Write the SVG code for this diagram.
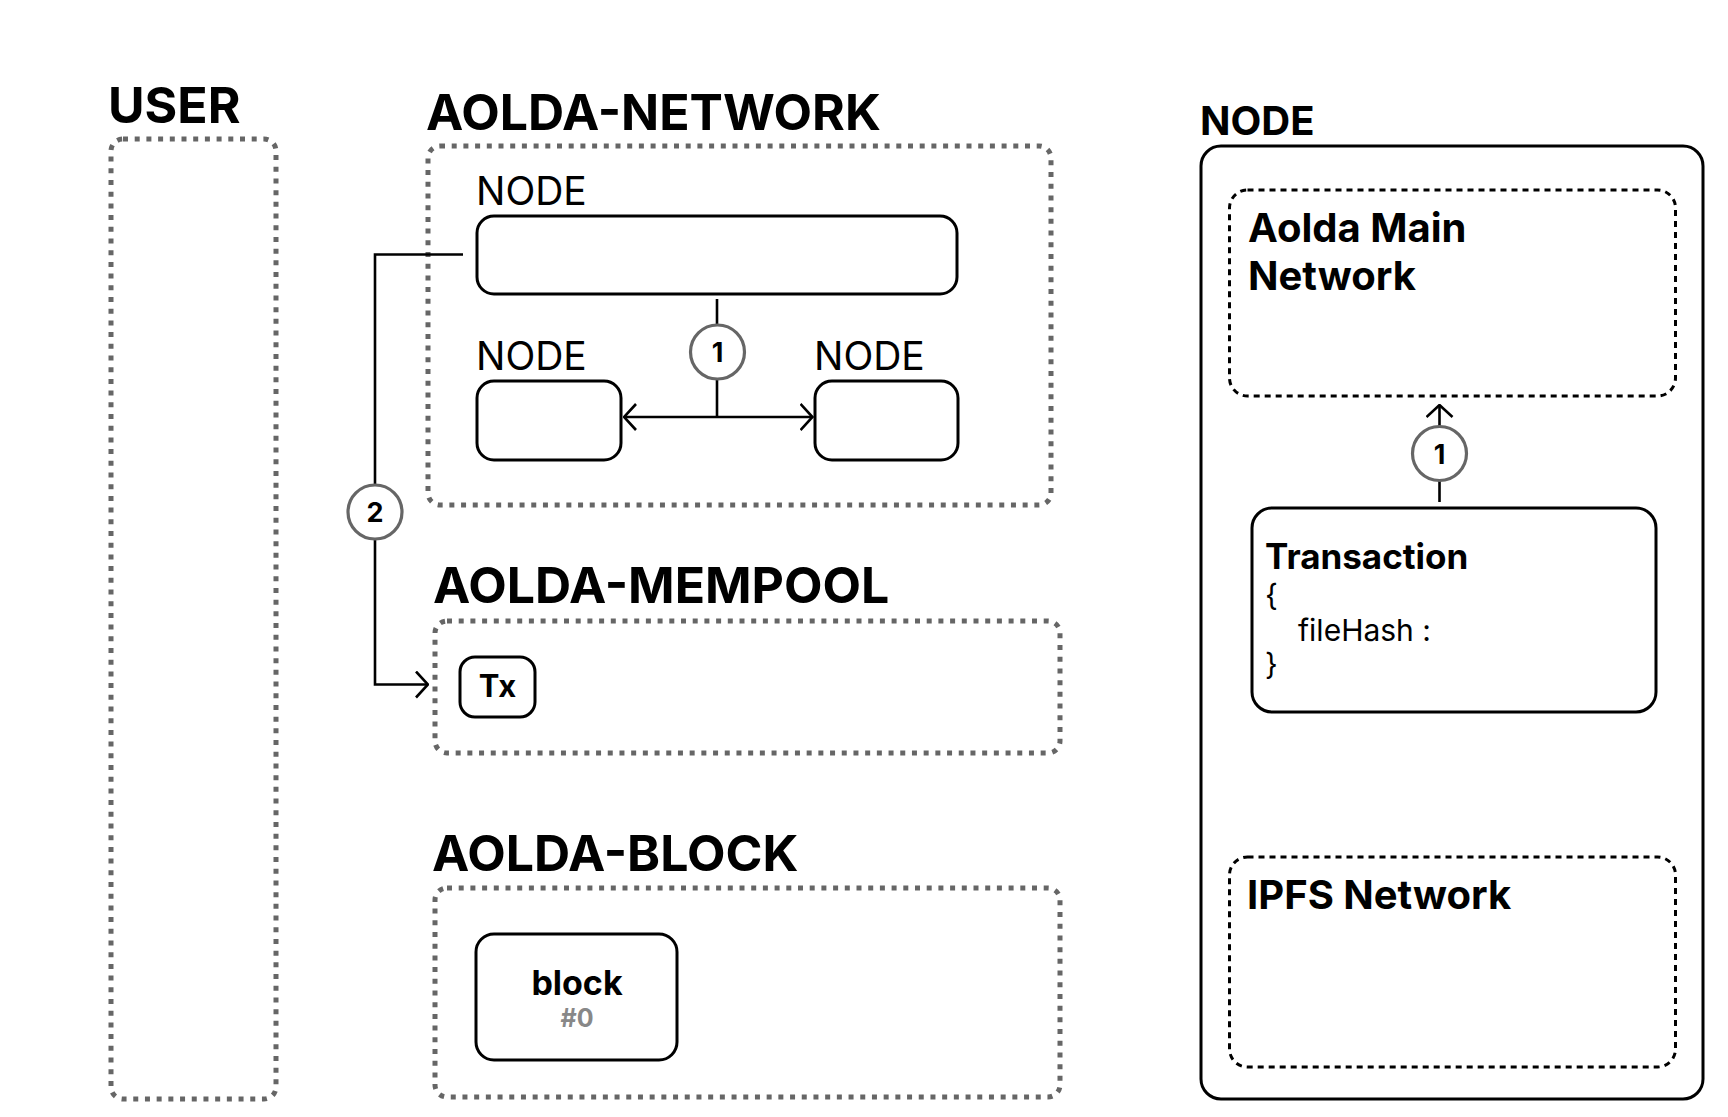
<svg xmlns="http://www.w3.org/2000/svg" width="1728" height="1117" viewBox="0 0 1728 1117">
<defs>
<style>
.title{font-family:Inter,"Noto Sans","Liberation Sans",sans-serif;font-weight:700;font-size:50px;fill:#000}
.sub{font-family:Inter,"Noto Sans","Liberation Sans",sans-serif;font-weight:700;font-size:40px;fill:#000}
.lbl{font-family:Inter,"Noto Sans","Liberation Sans",sans-serif;font-weight:400;font-size:39px;fill:#000}
.num{font-family:Inter,"Noto Sans","Liberation Sans",sans-serif;font-weight:700;font-size:25px;fill:#000;text-anchor:middle}
.badge-t{font-family:Inter,"Noto Sans","Liberation Sans",sans-serif;font-weight:700;font-size:27px;fill:#000;text-anchor:middle}
.body{font-family:Inter,"Noto Sans","Liberation Sans",sans-serif;font-weight:400;font-size:30px;fill:#000}
.grp{fill:none;stroke:#666;stroke-width:5;stroke-dasharray:5 6.7}
.dash{fill:none;stroke:#000;stroke-width:3;stroke-dasharray:6 5}
.box{fill:#fff;stroke:#000;stroke-width:3}
.badge{fill:#fff;stroke:#666;stroke-width:3.2}
.wire{fill:none;stroke:#000;stroke-width:2.6}
</style>
<marker id="arr" viewBox="0 0 14 28" refX="13" refY="14" markerWidth="14" markerHeight="28" markerUnits="userSpaceOnUse" orient="auto-start-reverse">
<path d="M1,1 L13,14 L1,27" fill="none" stroke="#000" stroke-width="2.6"/>
</marker>
</defs>
<rect width="1728" height="1117" fill="#fff"/>

<g id="user">
<text class="title" x="108" y="123">USER</text>
<rect class="grp" x="111" y="139" width="165" height="960" rx="12"/>
</g>

<g id="aolda-network">
<text class="title" x="426" y="130">AOLDA-NETWORK</text>
<rect class="grp" x="428" y="146" width="623" height="359" rx="12"/>
</g>

<g id="node-top">
<text class="lbl" x="476" y="205">NODE</text>
<rect class="box" x="477" y="216" width="480" height="78" rx="17"/>
</g>
<g id="node-left">
<text class="lbl" x="476" y="370">NODE</text>
<rect class="box" x="477" y="381" width="144" height="79" rx="17"/>
</g>
<g id="node-right">
<text class="lbl" x="814" y="370">NODE</text>
<rect class="box" x="815" y="381" width="143" height="79" rx="17"/>
</g>

<g id="aolda-mempool">
<text class="title" x="433" y="603">AOLDA-MEMPOOL</text>
<rect class="grp" x="435" y="621" width="625" height="132" rx="12"/>
</g>
<g id="tx">
<rect class="box" x="460" y="657" width="75" height="60" rx="15"/>
<text class="num" style="font-size:31px" x="497.5" y="697">Tx</text>
</g>

<g id="aolda-block">
<text class="title" x="432" y="871">AOLDA-BLOCK</text>
<rect class="grp" x="435" y="888" width="625" height="209" rx="12"/>
</g>
<g id="block0">
<rect class="box" x="476" y="934" width="201" height="126" rx="18"/>
<text class="num" style="font-size:34px" x="577" y="995">block</text>
<text class="num" style="font-size:25px;fill:#888" x="577" y="1027">#0</text>
</g>

<g id="node-detail">
<text class="sub" x="1200" y="135">NODE</text>
<rect class="box" x="1201" y="146" width="502" height="953" rx="20" fill="none"/>
</g>
<g id="aolda-main-network">
<rect class="dash" x="1229.5" y="190" width="446" height="206" rx="18"/>
<text class="sub" x="1248" y="242">Aolda Main</text>
<text class="sub" x="1248" y="290">Network</text>
</g>
<g id="transaction">
<rect class="box" x="1252" y="508" width="404" height="204" rx="20"/>
<text class="sub" style="font-size:35px" x="1265" y="569">Transaction</text>
<text class="body" x="1265" y="606">{</text>
<text class="body" x="1298" y="641">fileHash :</text>
<text class="body" x="1265" y="675">}</text>
</g>
<g id="ipfs-network">
<rect class="dash" x="1229.5" y="857" width="446" height="210" rx="18"/>
<text class="sub" x="1247" y="909">IPFS Network</text>
</g>

<g id="connectors">
<path class="wire" d="M717,299 V325"/>
<path class="wire" d="M717,379 V417"/>
<path class="wire" d="M717,417 H624" marker-end="url(#arr)"/>
<path class="wire" d="M717,417 H812.5" marker-end="url(#arr)"/>
<circle class="badge" cx="717.5" cy="352" r="27"/>
<text class="badge-t" x="717.5" y="362">1</text>

<path class="wire" d="M463,254.5 H375 V485"/>
<path class="wire" d="M375,539 V684.5 H428" marker-end="url(#arr)"/>
<circle class="badge" cx="375" cy="512" r="27"/>
<text class="badge-t" x="375" y="522">2</text>

<path class="wire" d="M1439.5,502 V480"/>
<path class="wire" d="M1439.5,426.5 V405" marker-end="url(#arr)"/>
<circle class="badge" cx="1439.5" cy="453.5" r="27"/>
<text class="badge-t" x="1439.5" y="463.5">1</text>
</g>
</svg>
